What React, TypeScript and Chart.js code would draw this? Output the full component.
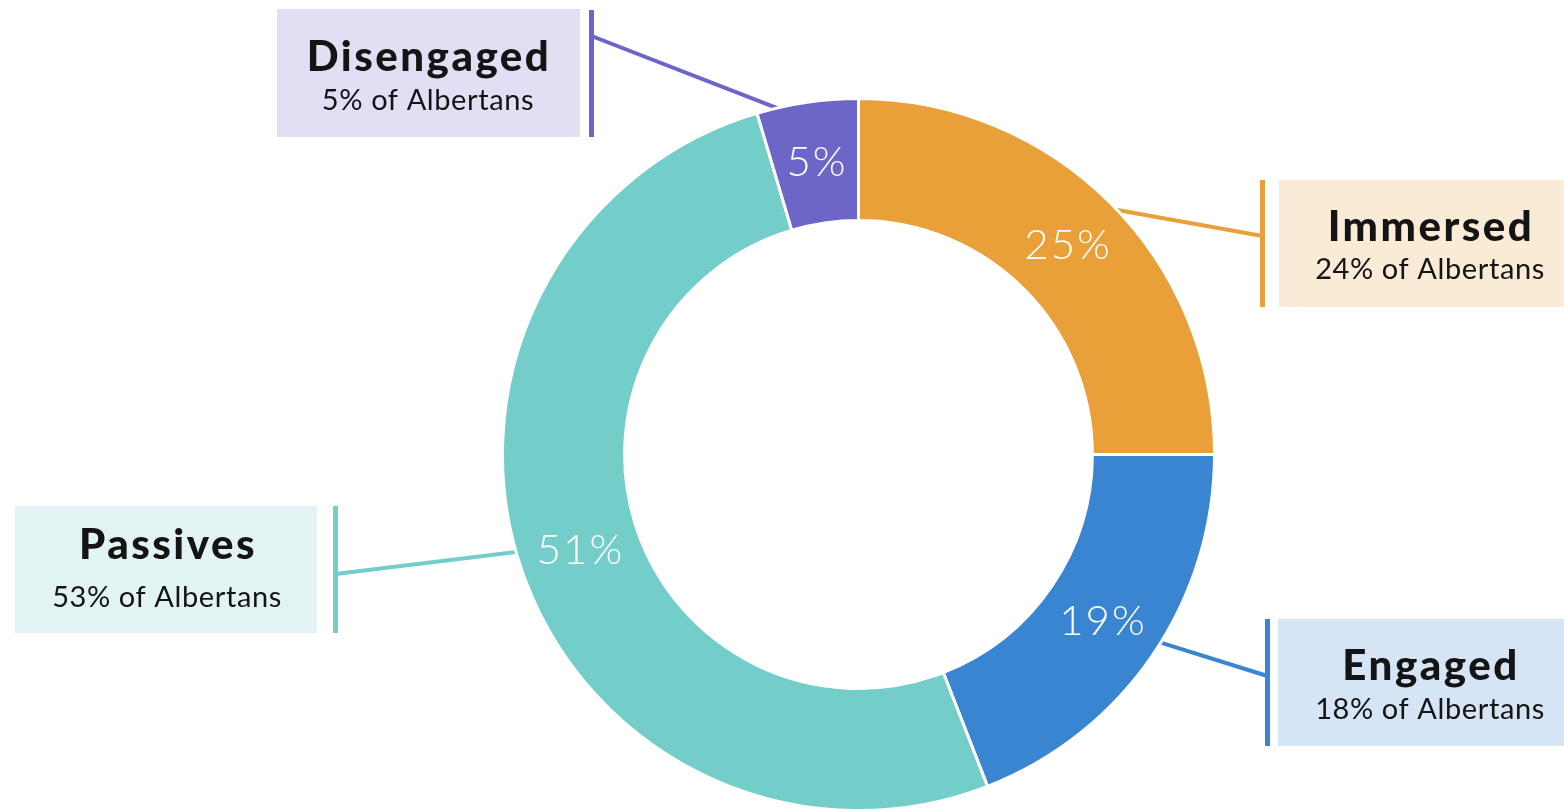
import React, { useEffect, useRef } from "react";
import { Chart, registerables } from "chart.js";

Chart.register(...registerables);

// ---- data ----
const SEGMENTS = ["Immersed", "Engaged", "Passives", "Disengaged"];
// arc sizes as drawn (labels show them rounded: 25%, 19%, 51%, 5%)
const SEGMENT_SHARE = [25, 19.1, 51.3, 4.6];
const POPULATION_SHARE = [24, 18, 53, 5];
const COLORS = ["#E9A038", "#3A85D1", "#73CECA", "#6C66C9"];
const LIGHT_COLORS = ["#FAEBD7", "#D6E5F5", "#E1F4F3", "#E1DFF4"];

// ---- callout layout (positions only) ----
type Callout = {
  box: [number, number, number, number];
  textX: number;
  barX: number;
  barY: [number, number];
  lineEndY: number;
  angleOffsetDeg: number;
  titleY: number;
  subY: number;
};
const CALLOUTS: Callout[] = [
  { box: [1279, 180, 290, 127], textX: 1430, barX: 1262.5, barY: [180, 307], lineEndY: 236, angleOffsetDeg: 0.7, titleY: 227, subY: 270 },
  { box: [1278, 619, 290, 127], textX: 1430, barX: 1267.5, barY: [619, 746], lineEndY: 676, angleOffsetDeg: -2.3, titleY: 666, subY: 710 },
  { box: [15, 506, 302, 127], textX: 167, barX: 335.5, barY: [506, 633], lineEndY: 574, angleOffsetDeg: 2.9, titleY: 545, subY: 598 },
  { box: [277, 9, 303, 128], textX: 428, barX: 591.5, barY: [10, 137], lineEndY: 36, angleOffsetDeg: -4, titleY: 57, subY: 101 },
];

const FONT = "Lato, 'Open Sans', sans-serif";

const calloutPlugin = {
  id: "callouts",
  beforeDatasetsDraw(chart: any) {
    const ctx = chart.ctx as CanvasRenderingContext2D;
    const meta = chart.getDatasetMeta(0);
    meta.data.forEach((arc: any, i: number) => {
      const c = CALLOUTS[i];
      const { x, y, startAngle, endAngle, outerRadius } = arc.getProps(
        ["x", "y", "startAngle", "endAngle", "outerRadius"],
        true
      );
      const mid = (startAngle + endAngle) / 2 + (c.angleOffsetDeg * Math.PI) / 180;
      const sx = x + Math.cos(mid) * (outerRadius - 4);
      const sy = y + Math.sin(mid) * (outerRadius - 4);
      ctx.save();
      ctx.fillStyle = LIGHT_COLORS[i];
      ctx.fillRect(c.box[0], c.box[1], c.box[2], c.box[3]);
      ctx.strokeStyle = COLORS[i];
      ctx.lineWidth = 5;
      ctx.beginPath();
      ctx.moveTo(c.barX, c.barY[0]);
      ctx.lineTo(c.barX, c.barY[1]);
      ctx.stroke();
      ctx.lineWidth = 4;
      ctx.beginPath();
      ctx.moveTo(sx, sy);
      ctx.lineTo(c.barX, c.lineEndY);
      ctx.stroke();
      ctx.fillStyle = "#141414";
      ctx.textAlign = "center";
      ctx.textBaseline = "middle";
      (ctx as any).letterSpacing = "2.5px";
      ctx.font = `900 42px ${FONT}`;
      ctx.fillText(SEGMENTS[i], c.textX + 1, c.titleY);
      (ctx as any).letterSpacing = "0.6px";
      ctx.font = `400 29px ${FONT}`;
      ctx.fillText(`${POPULATION_SHARE[i]}% of Albertans`, c.textX, c.subY);
      ctx.restore();
    });
  },
  afterDatasetsDraw(chart: any) {
    const ctx = chart.ctx as CanvasRenderingContext2D;
    const meta = chart.getDatasetMeta(0);
    const values = chart.data.datasets[0].data as number[];
    meta.data.forEach((arc: any, i: number) => {
      const p = arc.getCenterPoint();
      ctx.save();
      ctx.fillStyle = "#FFFFFF";
      ctx.textAlign = "center";
      ctx.textBaseline = "middle";
      (ctx as any).letterSpacing = "2px";
      ctx.font = `300 42px ${FONT}`;
      ctx.fillText(`${Math.round(values[i])}%`, p.x + 1, p.y);
      ctx.restore();
    });
  },
};

export default function App() {
  const ref = useRef<HTMLCanvasElement | null>(null);
  useEffect(() => {
    document.body.style.margin = "0";
    const chart = new Chart(ref.current as HTMLCanvasElement, {
      type: "doughnut",
      data: {
        labels: SEGMENTS,
        datasets: [
          {
            data: SEGMENT_SHARE,
            backgroundColor: COLORS,
            borderColor: "#FFFFFF",
            borderWidth: 3,
            hoverOffset: 0,
          },
        ],
      },
      options: {
        animation: false,
        responsive: false,
        radius: 356,
        cutout: "65.7%",
        layout: { padding: { left: 503, right: 350, top: 99, bottom: 2 } },
        plugins: {
          legend: { display: false },
          tooltip: { enabled: false },
        },
        events: [],
      },
      plugins: [calloutPlugin],
    });
    return () => chart.destroy();
  }, []);
  return (
    <div style={{ position: "absolute", left: 0, top: 0, width: 1564, height: 812, background: "#fff" }}>
      <canvas ref={ref} width={1564} height={812} style={{ display: "block" }} />
    </div>
  );
}
